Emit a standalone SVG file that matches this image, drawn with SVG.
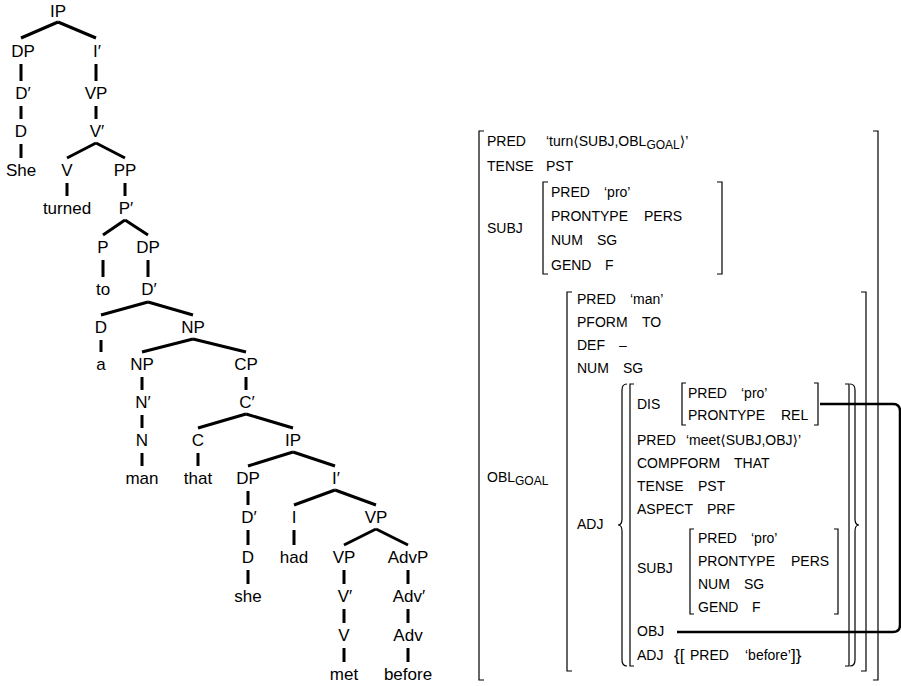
<svg xmlns="http://www.w3.org/2000/svg" width="901" height="686" viewBox="0 0 901 686">
<style>
.t{font-family:"Liberation Sans",Arial,"DejaVu Sans",sans-serif;font-size:17px;fill:#000;text-anchor:middle}
.f{font-family:"Liberation Sans",Arial,"DejaVu Sans",sans-serif;font-size:14px;fill:#000}
.s{font-size:12px}
.d{font-size:17px}
.e{stroke:#000;stroke-width:3;fill:none}
.b{stroke:#000;stroke-width:1.2;fill:none}
.c{stroke:#000;stroke-width:2.5;fill:none}
</style>
<rect width="901" height="686" fill="#fff"/>
<g id="tree-nodes">
<g id="n1"><text class="t" x="58" y="17">IP</text></g>
<g id="n2"><text class="t" x="23" y="57">DP</text></g>
<g id="n3"><text class="t" x="97" y="57">I′</text></g>
<g id="n4"><text class="t" x="23" y="99">D′</text></g>
<g id="n5"><text class="t" x="96" y="99">VP</text></g>
<g id="n6"><text class="t" x="21" y="137">D</text></g>
<g id="n7"><text class="t" x="97" y="137">V′</text></g>
<g id="n8"><text class="t" x="21" y="176">She</text></g>
<g id="n9"><text class="t" x="67" y="176">V</text></g>
<g id="n10"><text class="t" x="125" y="176">PP</text></g>
<g id="n11"><text class="t" x="67" y="214">turned</text></g>
<g id="n12"><text class="t" x="126" y="214">P′</text></g>
<g id="n13"><text class="t" x="103" y="253">P</text></g>
<g id="n14"><text class="t" x="148" y="253">DP</text></g>
<g id="n15"><text class="t" x="103" y="295">to</text></g>
<g id="n16"><text class="t" x="149" y="295">D′</text></g>
<g id="n17"><text class="t" x="101" y="333">D</text></g>
<g id="n18"><text class="t" x="193" y="333">NP</text></g>
<g id="n19"><text class="t" x="101" y="370">a</text></g>
<g id="n20"><text class="t" x="142" y="370">NP</text></g>
<g id="n21"><text class="t" x="246" y="370">CP</text></g>
<g id="n22"><text class="t" x="143" y="408">N′</text></g>
<g id="n23"><text class="t" x="247" y="408">C′</text></g>
<g id="n24"><text class="t" x="142" y="446">N</text></g>
<g id="n25"><text class="t" x="198" y="446">C</text></g>
<g id="n26"><text class="t" x="293" y="446">IP</text></g>
<g id="n27"><text class="t" x="142" y="484">man</text></g>
<g id="n28"><text class="t" x="198" y="484">that</text></g>
<g id="n29"><text class="t" x="248" y="484">DP</text></g>
<g id="n30"><text class="t" x="336" y="484">I′</text></g>
<g id="n31"><text class="t" x="249" y="523">D′</text></g>
<g id="n32"><text class="t" x="294" y="523">I</text></g>
<g id="n33"><text class="t" x="376" y="523">VP</text></g>
<g id="n34"><text class="t" x="248" y="563">D</text></g>
<g id="n35"><text class="t" x="294" y="563">had</text></g>
<g id="n36"><text class="t" x="344" y="563">VP</text></g>
<g id="n37"><text class="t" x="408" y="563">AdvP</text></g>
<g id="n38"><text class="t" x="248" y="602">she</text></g>
<g id="n39"><text class="t" x="345" y="602">V′</text></g>
<g id="n40"><text class="t" x="409" y="602">Adv′</text></g>
<g id="n41"><text class="t" x="344" y="641">V</text></g>
<g id="n42"><text class="t" x="408" y="641">Adv</text></g>
<g id="n43"><text class="t" x="344" y="680">met</text></g>
<g id="n44"><text class="t" x="408" y="680">before</text></g>
</g>
<g id="tree-edges" class="e">
<path d="M58 22L21 38M58 22L96 38"/>
<path d="M21 64V81M21 106V119M21 144V158"/>
<path d="M96 64V81M96 106V119"/>
<path d="M96 143L67 158M96 143L125 158"/>
<path d="M67 183V196M125 183V196"/>
<path d="M125 220L103 235M125 220L148 235"/>
<path d="M103 260V277M148 260V277"/>
<path d="M148 302L101 315M148 302L193 315"/>
<path d="M101 340V352"/>
<path d="M193 339L142 352M193 339L246 352"/>
<path d="M142 377V390M142 415V428M142 453V466"/>
<path d="M246 377V390"/>
<path d="M246 414L198 428M246 414L293 428"/>
<path d="M198 453V466"/>
<path d="M293 452L248 466M293 452L335 466"/>
<path d="M248 491V505M248 530V545M248 570V584"/>
<path d="M335 490L294 505M335 490L376 505"/>
<path d="M294 530V545"/>
<path d="M376 529L344 545M376 529L408 545"/>
<path d="M344 570V584M344 609V623M344 648V662"/>
<path d="M408 570V584M408 609V623M408 648V662"/>
</g>
<g id="fstructure">
<g id="outer-brackets" class="b">
<path d="M484 131H479V680H484"/>
<path d="M873 131H878V680H873"/>
</g>
<text class="f" x="487" y="146">PRED</text>
<text class="f" x="546" y="146">‘turn⟨SUBJ,OBL<tspan class="s" dy="3">GOAL</tspan><tspan dy="-3">⟩’</tspan></text>
<text class="f" x="487" y="171">TENSE</text>
<text class="f" x="546" y="171">PST</text>
<g id="subj1">
<text class="f" x="487" y="233">SUBJ</text>
<path class="b" d="M548 182H543V274H548M717 182H722V274H717"/>
<text class="f" x="551" y="197">PRED</text><text class="f" x="604" y="197">‘pro’</text>
<text class="f" x="551" y="221">PRONTYPE</text><text class="f" x="644" y="221">PERS</text>
<text class="f" x="551" y="245">NUM</text><text class="f" x="597" y="245">SG</text>
<text class="f" x="551" y="270">GEND</text><text class="f" x="605" y="270">F</text>
</g>
<g id="obl">
<text class="f" x="487" y="482">OBL<tspan class="s" dy="3">GOAL</tspan></text>
<path class="b" d="M572 292H567V671H572M861 292H866V671H861"/>
<text class="f" x="577" y="304">PRED</text><text class="f" x="630" y="304">‘man’</text>
<text class="f" x="577" y="327">PFORM</text><text class="f" x="642" y="327">TO</text>
<text class="f" x="577" y="350">DEF</text><text class="f" x="619" y="350">–</text>
<text class="f" x="577" y="373">NUM</text><text class="f" x="623" y="373">SG</text>
</g>
<g id="adj">
<text class="f" x="577" y="529">ADJ</text>
<path class="b" d="M627 384Q622 384 622 390V519Q622 525 618 525Q622 525 622 531V660Q622 666 627 666"/>
<path class="b" d="M634 384H630V666H634"/>
<path class="b" d="M845 384H849V666H845"/>
<path class="b" d="M850 384Q855 384 855 390V519Q855 525 859 525Q855 525 855 531V660Q855 666 850 666"/>
<g id="dis">
<text class="f" x="637" y="409">DIS</text>
<path class="b" d="M686 383H682V425H686M814 383H818V425H814"/>
<text class="f" x="688" y="398">PRED</text><text class="f" x="741" y="398">‘pro’</text>
<text class="f" x="688" y="420">PRONTYPE</text><text class="f" x="781" y="420">REL</text>
</g>
<text class="f" x="637" y="445">PRED</text><text class="f" x="686" y="445">‘meet⟨SUBJ,OBJ⟩’</text>
<text class="f" x="637" y="468">COMPFORM</text><text class="f" x="734" y="468">THAT</text>
<text class="f" x="637" y="491">TENSE</text><text class="f" x="698" y="491">PST</text>
<text class="f" x="637" y="514">ASPECT</text><text class="f" x="707" y="514">PRF</text>
<g id="subj2">
<text class="f" x="637" y="573">SUBJ</text>
<path class="b" d="M694 529H690V614H694M834 529H838V614H834"/>
<text class="f" x="698" y="543">PRED</text><text class="f" x="751" y="543">‘pro’</text>
<text class="f" x="698" y="566">PRONTYPE</text><text class="f" x="791" y="566">PERS</text>
<text class="f" x="698" y="589">NUM</text><text class="f" x="744" y="589">SG</text>
<text class="f" x="698" y="612">GEND</text><text class="f" x="752" y="612">F</text>
</g>
<text class="f" x="637" y="636">OBJ</text>
<text class="f" x="637" y="660">ADJ</text>
<text class="f" x="674" y="661"><tspan class="d">{[</tspan></text>
<text class="f" x="690" y="660">PRED</text>
<text class="f" x="745" y="660">‘before’</text>
<text class="f" x="791" y="661"><tspan class="d">]}</tspan></text>
</g>
</g>
<g id="connectors">
<path class="c" d="M820 404H893Q900 404 900 411V625Q900 632 893 632H677"/>
</g>
</svg>
